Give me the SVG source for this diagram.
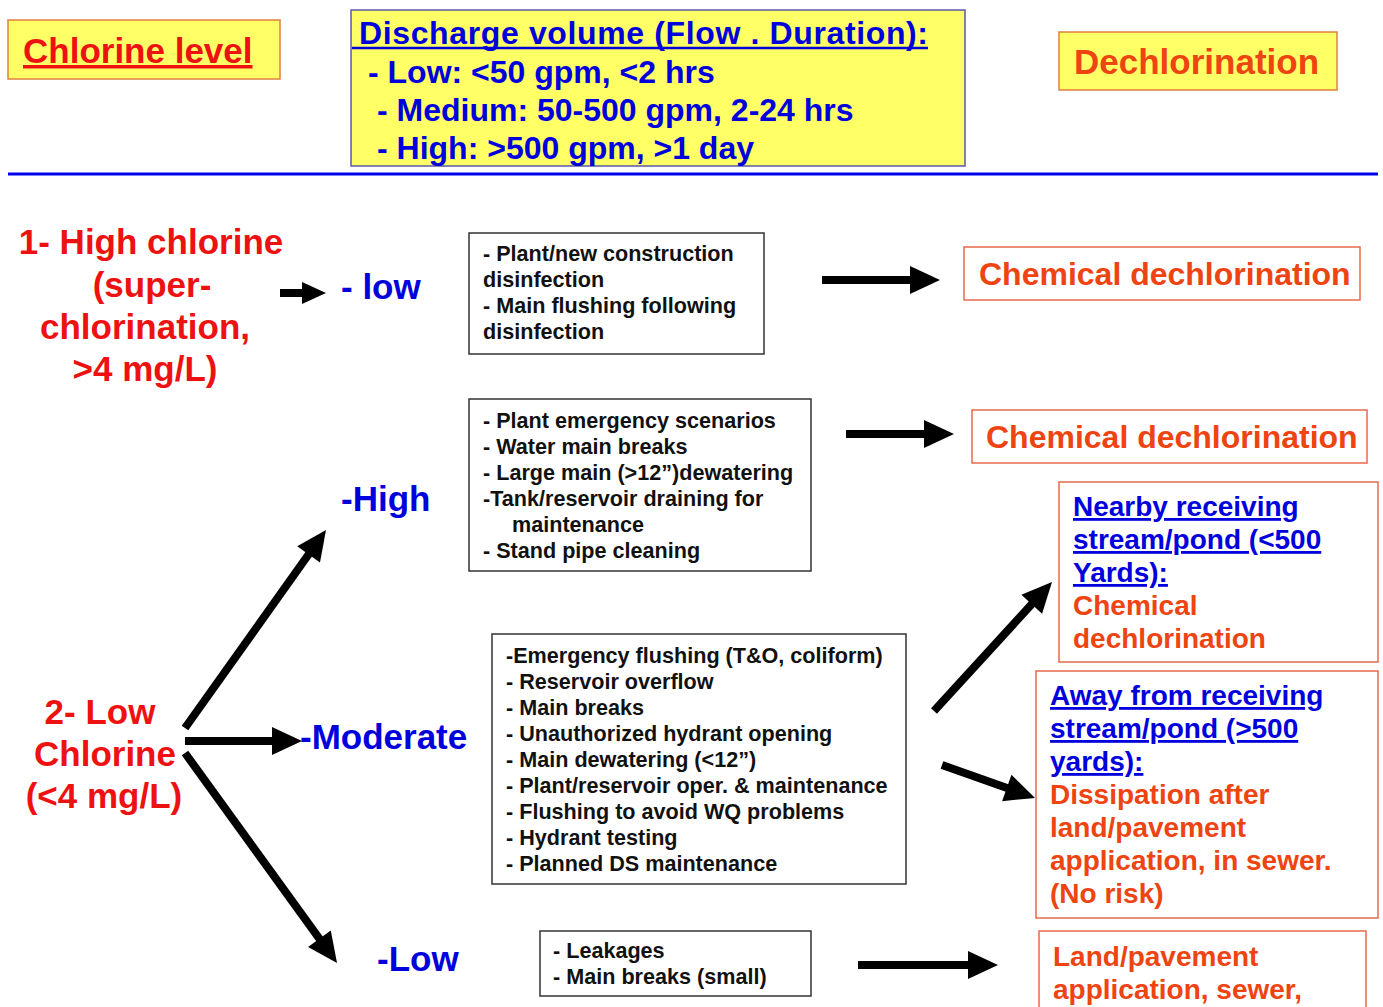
<svg xmlns="http://www.w3.org/2000/svg" width="1383" height="1007" viewBox="0 0 1383 1007">
<style>
text{font-family:"Liberation Sans",Arial,sans-serif;font-weight:bold}
.hdr{font-size:35px}
.red{fill:#ee1111}
.org{fill:#ee4411}
.blu{fill:#0000dd}
.blk{fill:#111}
.sm{font-size:21.6px}
.md{font-size:28px}
.ul{text-decoration:underline}
.ybox{fill:#ffff66;stroke:#e08040;stroke-width:1.5}
.kbox{fill:#fff;stroke:#333;stroke-width:1.5}
.obox{fill:#fff;stroke:#e86a4a;stroke-width:1.5}
.arr{stroke:#000;stroke-width:8;fill:none;marker-end:url(#ah)}
.arrs{stroke:#000;stroke-width:8;fill:none;marker-end:url(#ahs)}
</style>
<defs>
<marker id="ah" markerUnits="userSpaceOnUse" markerWidth="30" markerHeight="28" refX="10" refY="14" orient="auto" overflow="visible">
<path d="M0,0 L30,14 L0,28 z" fill="#000"/>
</marker>
<marker id="ahs" markerUnits="userSpaceOnUse" markerWidth="24" markerHeight="22" refX="8" refY="11" orient="auto" overflow="visible">
<path d="M0,0 L24,11 L0,22 z" fill="#000"/>
</marker>
</defs>
<rect width="1383" height="1007" fill="#fff"/>

<g id="chlorine-level">
<rect class="ybox" x="8" y="20" width="272" height="59"/>
<text class="hdr red ul" x="23" y="63">Chlorine level</text>
</g>

<g id="discharge-volume">
<rect x="351" y="10" width="614" height="156" fill="#ffff66" stroke="#5a5aa8" stroke-width="1.5"/>
<line x1="352" y1="48" x2="928" y2="48" stroke="#0000dd" stroke-width="2.5"/>
<text class="blu" font-size="32"><tspan x="359" y="44" textLength="569" lengthAdjust="spacing">Discharge volume (Flow . Duration):</tspan><tspan x="368" y="83">- Low: &lt;50 gpm, &lt;2 hrs</tspan><tspan x="377" y="121">- Medium: 50-500 gpm, 2-24 hrs</tspan><tspan x="377" y="159">- High: &gt;500 gpm, &gt;1 day</tspan></text>
</g>

<g id="dechlorination">
<rect class="ybox" x="1059" y="32" width="278" height="58"/>
<text class="hdr org" x="1074" y="74">Dechlorination</text>
</g>

<line id="divider" x1="8" y1="174" x2="1378" y2="174" stroke="#0000ee" stroke-width="3"/>

<g id="high-chlorine">
<text class="hdr red" text-anchor="middle"><tspan x="151" y="254">1- High chlorine</tspan><tspan x="152" y="297">(super-</tspan><tspan x="145" y="339">chlorination,</tspan><tspan x="145" y="381">&gt;4 mg/L)</tspan></text>
</g>

<g id="low-chlorine">
<text class="hdr red" text-anchor="middle"><tspan x="100" y="724">2- Low</tspan><tspan x="105" y="766">Chlorine</tspan><tspan x="104" y="808">(&lt;4 mg/L)</tspan></text>
</g>

<g id="label-low-1"><text class="hdr blu" x="341" y="299">- low</text></g>
<g id="label-high"><text class="hdr blu" x="341" y="511">-High</text></g>
<g id="label-moderate"><text class="hdr blu" x="300" y="749">-Moderate</text></g>
<g id="label-low-2"><text class="hdr blu" x="377" y="971">-Low</text></g>

<g id="box-superchlor">
<rect class="kbox" x="469" y="233" width="295" height="121"/>
<text class="sm blk"><tspan x="483" y="261">- Plant/new construction</tspan><tspan x="483" y="287">disinfection</tspan><tspan x="483" y="313">- Main flushing following</tspan><tspan x="483" y="339">disinfection</tspan></text>
</g>

<g id="box-high">
<rect class="kbox" x="469" y="399" width="342" height="172"/>
<text class="sm blk"><tspan x="483" y="428">- Plant emergency scenarios</tspan><tspan x="483" y="454">- Water main breaks</tspan><tspan x="483" y="480">- Large main (&gt;12”)dewatering</tspan><tspan x="483" y="506">-Tank/reservoir draining for</tspan><tspan x="512" y="532">maintenance</tspan><tspan x="483" y="558">- Stand pipe cleaning</tspan></text>
</g>

<g id="box-moderate">
<rect class="kbox" x="492" y="634" width="414" height="250"/>
<text class="sm blk"><tspan x="506" y="663">-Emergency flushing (T&amp;O, coliform)</tspan><tspan x="506" y="689">- Reservoir overflow</tspan><tspan x="506" y="715">- Main breaks</tspan><tspan x="506" y="741">- Unauthorized hydrant opening</tspan><tspan x="506" y="767">- Main dewatering (&lt;12”)</tspan><tspan x="506" y="793">- Plant/reservoir oper. &amp; maintenance</tspan><tspan x="506" y="819">- Flushing to avoid WQ problems</tspan><tspan x="506" y="845">- Hydrant testing</tspan><tspan x="506" y="871">- Planned DS maintenance</tspan></text>
</g>

<g id="box-low">
<rect class="kbox" x="540" y="931" width="271" height="65"/>
<text class="sm blk"><tspan x="553" y="958">- Leakages</tspan><tspan x="553" y="984">- Main breaks (small)</tspan></text>
</g>

<g id="chem-dechlor-1">
<rect class="obox" x="964" y="247" width="396" height="53"/>
<text class="org" font-size="32" x="979" y="285">Chemical dechlorination</text>
</g>

<g id="chem-dechlor-2">
<rect class="obox" x="972" y="410" width="395" height="53"/>
<text class="org" font-size="32" x="986" y="448">Chemical dechlorination</text>
</g>

<g id="nearby">
<rect class="obox" x="1059" y="482" width="319" height="180"/>
<text class="md"><tspan class="blu ul" x="1073" y="516">Nearby receiving</tspan><tspan class="blu ul" x="1073" y="549">stream/pond (&lt;500</tspan><tspan class="blu ul" x="1073" y="582">Yards):</tspan><tspan class="org" x="1073" y="615">Chemical</tspan><tspan class="org" x="1073" y="648">dechlorination</tspan></text>
</g>

<g id="away">
<rect class="obox" x="1036" y="671" width="342" height="247"/>
<text class="md"><tspan class="blu ul" x="1050" y="705">Away from receiving</tspan><tspan class="blu ul" x="1050" y="738">stream/pond (&gt;500</tspan><tspan class="blu ul" x="1050" y="771">yards):</tspan><tspan class="org" x="1050" y="804">Dissipation after</tspan><tspan class="org" x="1050" y="837">land/pavement</tspan><tspan class="org" x="1050" y="870">application, in sewer.</tspan><tspan class="org" x="1050" y="903">(No risk)</tspan></text>
</g>

<g id="land-pavement">
<rect class="obox" x="1039" y="931" width="327" height="90"/>
<text class="md org"><tspan x="1053" y="966">Land/pavement</tspan><tspan x="1053" y="999">application, sewer,</tspan></text>
</g>

<g id="connectors">
<line class="arrs" x1="280" y1="293" x2="310" y2="293"/>
<line class="arr" x1="822" y1="280" x2="920" y2="280"/>
<line class="arr" x1="846" y1="434" x2="934" y2="434"/>
<line class="arr" x1="858" y1="965" x2="978" y2="965"/>
<line class="arr" x1="185" y1="728" x2="314.4" y2="546.3"/>
<line class="arr" x1="185" y1="741" x2="282" y2="741"/>
<line class="arr" x1="185" y1="753" x2="325.3" y2="946.8"/>
<line class="arr" x1="934" y1="711" x2="1038.5" y2="596.8"/>
<line class="arr" x1="942" y1="765" x2="1016.2" y2="791.3"/>
</g>
</svg>
